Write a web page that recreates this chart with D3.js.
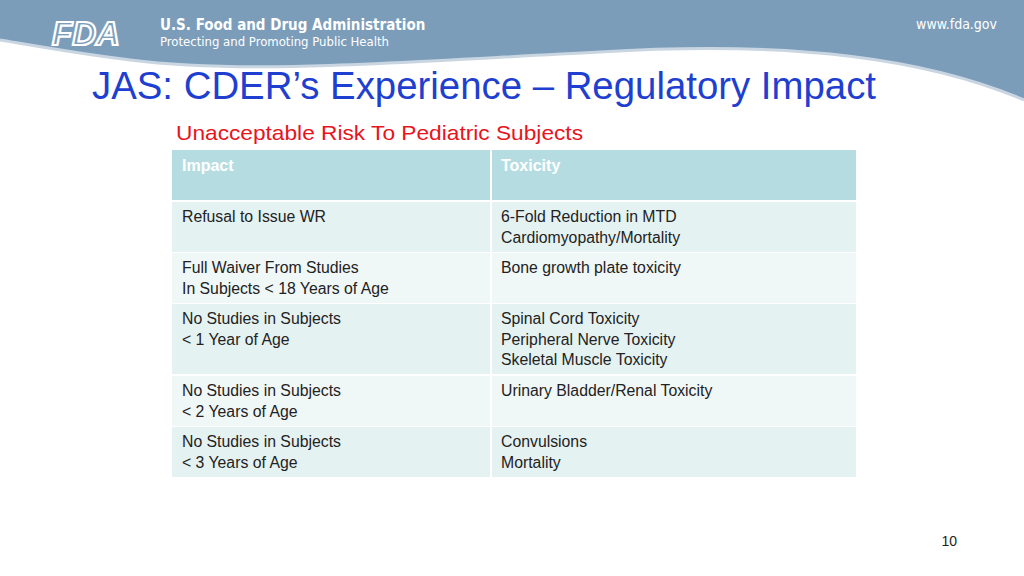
<!DOCTYPE html>
<html><head><meta charset="utf-8">
<script src="https://cdn.jsdelivr.net/npm/d3@7"></script>
<style>body{margin:0;background:#fff}svg{display:block}</style>
</head><body>
<script>
// Table contents
var headers = ["Impact", "Toxicity"];
var impacts = [
	["Refusal to Issue WR"],
	["Full Waiver From Studies", "In Subjects < 18 Years of Age"],
	["No Studies in Subjects", "< 1 Year of Age"],
	["No Studies in Subjects", "< 2 Years of Age"],
	["No Studies in Subjects", "< 3 Years of Age"]
];
var toxicities = [
	["6-Fold Reduction in MTD", "Cardiomyopathy/Mortality"],
	["Bone growth plate toxicity"],
	["Spinal Cord Toxicity", "Peripheral Nerve Toxicity", "Skeletal Muscle Toxicity"],
	["Urinary Bladder/Renal Toxicity"],
	["Convulsions", "Mortality"]
];

var W = 1024, H = 576;
var svg = d3.select("body").append("svg").attr("width", W).attr("height", H)
	.style("font-family", "Arial, 'Liberation Sans', sans-serif");

// banner
svg.append("path")
	.attr("d", "M0,0 H1024 V100 C930,60 800,40 600,52 C400,62 250,75 130,60 C80,54 30,45 0,40 Z")
	.attr("fill", "#7b9dba");
svg.append("path")
	.attr("d", "M0,40 C30,45 80,54 130,60 C250,75 400,62 600,52 C800,40 930,60 1024,100")
	.attr("fill", "none").attr("stroke", "#c9d6e2").attr("stroke-width", 3);

// logo
var logo = svg.append("g").attr("transform", "translate(52,18)");
logo.append("text").attr("x", 0).attr("y", 27).text("FDA")
	.attr("font-size", 33).attr("font-weight", "bold").attr("fill", "none")
	.attr("stroke", "#fff").attr("stroke-width", 2.2).attr("font-style", "italic");
svg.append("text").attr("x", 160).attr("y", 30).text("U.S. Food and Drug Administration")
	.attr("font-family", "'DejaVu Sans Condensed', 'DejaVu Sans', sans-serif")
	.attr("font-size", 15).attr("font-weight", "bold").attr("fill", "#fff");
svg.append("text").attr("x", 160).attr("y", 46).text("Protecting and Promoting Public Health")
	.attr("font-family", "'DejaVu Sans Condensed', 'DejaVu Sans', sans-serif")
	.attr("font-size", 13).attr("fill", "#fff");
svg.append("text").attr("x", 997).attr("y", 29).attr("text-anchor", "end").text("www.fda.gov")
	.attr("font-family", "'DejaVu Sans Condensed', 'DejaVu Sans', sans-serif")
	.attr("font-size", 14).attr("fill", "#fff");

// title
svg.append("text").attr("x", 92).attr("y", 99).text("JAS: CDER\u2019s Experience \u2013 Regulatory Impact")
	.attr("font-size", 38).attr("fill", "#1f3fd0")
	.attr("textLength", 784).attr("lengthAdjust", "spacingAndGlyphs");
svg.append("text").attr("x", 176).attr("y", 140).text("Unacceptable Risk To Pediatric Subjects")
	.attr("font-size", 21).attr("fill", "#e8141c")
	.attr("textLength", 407).attr("lengthAdjust", "spacingAndGlyphs");

// table
var x0 = 172, x1 = 491, x2 = 856;
var rowTops = [202, 253, 304, 376, 427];
var rowBottoms = [252, 303, 374, 426, 477];
svg.append("rect").attr("x", x0).attr("y", 150).attr("width", x2 - x0).attr("height", 50).attr("fill", "#b5dde1");
[x0, x1].forEach(function(x, i) {
	svg.append("text").attr("x", x + 10).attr("y", 171).text(headers[i])
		.attr("font-size", 16).attr("font-weight", "bold").attr("fill", "#fff");
});

var rows = svg.selectAll("g.row").data(d3.range(impacts.length)).enter().append("g");
rows.append("rect").attr("x", x0).attr("y", function(i) { return rowTops[i]; })
	.attr("width", x2 - x0).attr("height", function(i) { return rowBottoms[i] - rowTops[i]; })
	.attr("fill", function(i) { return i % 2 ? "#f0f7f7" : "#e5f2f2"; });
rows.each(function(i) {
	var g = d3.select(this);
	[[x0, impacts[i]], [x1, toxicities[i]]].forEach(function(c) {
		g.selectAll(null).data(c[1]).enter().append("text")
			.attr("x", c[0] + 10).attr("y", function(d, k) { return rowTops[i] + 20 + k * 20.5; })
			.text(function(d) { return d; })
			.attr("font-size", 15.8).attr("fill", "#222");
	});
});
svg.append("line").attr("x1", x1).attr("x2", x1).attr("y1", 150).attr("y2", 478)
	.attr("stroke", "#fff").attr("stroke-width", 2);

svg.append("text").attr("x", 957).attr("y", 546).attr("text-anchor", "end").text("10")
	.attr("font-size", 14).attr("fill", "#222");
</script>
</body></html>
